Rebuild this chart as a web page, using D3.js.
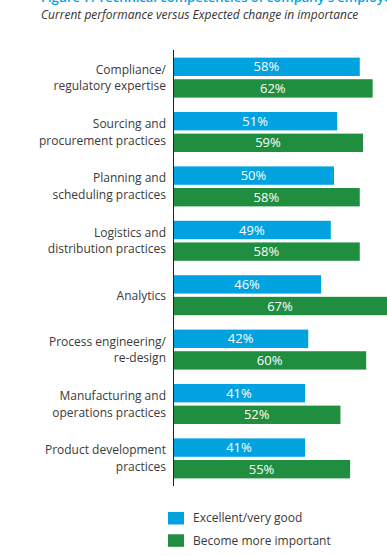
<!DOCTYPE html>
<html>
<head>
<meta charset="utf-8">
<script src="https://cdn.jsdelivr.net/npm/d3@7"></script>
<style>
  body { margin:0; background:#fff; }
  svg { display:block; font-family:"Open Sans", sans-serif; }
</style>
</head>
<body>
<div class="canvas"></div>
<script>
// chart data
const categories = [
  'Compliance/\nregulatory expertise',
  'Sourcing and\nprocurement practices',
  'Planning and\nscheduling practices',
  'Logistics and\ndistribution practices',
  'Analytics',
  'Process engineering/\nre-design',
  'Manufacturing and\noperations practices',
  'Product development\npractices'
];
const excellent = [58, 51, 50, 49, 46, 42, 41, 41];
const moreImportant = [62, 59, 58, 58, 67, 60, 52, 55];
const seriesNames = ['Excellent/very good', 'Become more important'];
const colors = ['#00a3e0', '#1f8e3f'];

const width = 387, height = 556;

const svg = d3.select('.canvas')
  .append('svg')
  .attr('width', width)
  .attr('height', height);

// title (cut off at the top in the original)
svg.append('text')
  .attr('x', 41).attr('y', 1.5)
  .attr('fill', '#00a3e0')
  .attr('font-size', 13)
  .attr('font-weight', 600)
  .text("Figure 7: Technical competencies of company's employees");

svg.append('text')
  .attr('x', 41).attr('y', 19)
  .attr('fill', '#333')
  .attr('font-size', 12)
  .attr('font-style', 'italic')
  .text('Current performance versus Expected change in importance');

const axisX = 173;

const y = d3.scaleBand()
  .domain(categories)
  .range([50, 486])
  .paddingInner(0.265)
  .paddingOuter(0.14);

const ySub = d3.scaleBand()
  .domain([0, 1])
  .range([0, y.bandwidth()])
  .paddingInner(0.15);

const x = d3.scaleLinear()
  .domain([0, 100])
  .range([axisX, axisX + 322]);

const rows = categories.map((c, i) => ({
  cat: c,
  vals: [excellent[i], moreImportant[i]]
}));

const groups = svg.selectAll('g.row')
  .data(rows)
  .enter().append('g')
  .attr('class', 'row')
  .attr('transform', d => `translate(0, ${y(d.cat)})`);

groups.selectAll('rect')
  .data(d => d.vals)
  .enter().append('rect')
  .attr('x', x(0))
  .attr('y', (d, i) => ySub(i))
  .attr('width', d => x(d) - x(0))
  .attr('height', ySub.bandwidth())
  .attr('fill', (d, i) => colors[i]);

groups.selectAll('text.val')
  .data(d => d.vals)
  .enter().append('text')
  .attr('class', 'val')
  .attr('x', d => (x(0) + Math.min(x(d), width)) / 2)
  .attr('y', (d, i) => ySub(i) + ySub.bandwidth() / 2)
  .attr('dy', '0.36em')
  .attr('text-anchor', 'middle')
  .attr('fill', '#fff')
  .attr('font-size', 13)
  .text(d => d + '%');

// category labels, one or two lines
const labels = groups.append('text')
  .attr('text-anchor', 'end')
  .attr('fill', '#3a3a3a')
  .attr('font-size', 12);

labels.each(function(d) {
  const lines = d.cat.split('\n');
  const mid = y.bandwidth() / 2;
  const lh = 16.5;
  lines.forEach((l, k) => {
    d3.select(this).append('tspan')
      .attr('x', 166)
      .attr('y', mid + (k - (lines.length - 1) / 2) * lh)
      .attr('dy', '0.36em')
      .text(l);
  });
});

// vertical axis line
svg.append('line')
  .attr('x1', axisX + 0.5).attr('x2', axisX + 0.5)
  .attr('y1', 50).attr('y2', 486)
  .attr('stroke', '#222')
  .attr('stroke-width', 1);

// legend
const legend = svg.selectAll('g.legend')
  .data(seriesNames)
  .enter().append('g')
  .attr('class', 'legend')
  .attr('transform', (d, i) => `translate(168, ${512 + i * 22.3})`);

legend.append('rect')
  .attr('width', 16)
  .attr('height', 12.5)
  .attr('fill', (d, i) => colors[i]);

legend.append('text')
  .attr('x', 25)
  .attr('y', 6)
  .attr('dy', '0.36em')
  .attr('fill', '#3a3a3a')
  .attr('font-size', 12)
  .text(d => d);
</script>
</body>
</html>
